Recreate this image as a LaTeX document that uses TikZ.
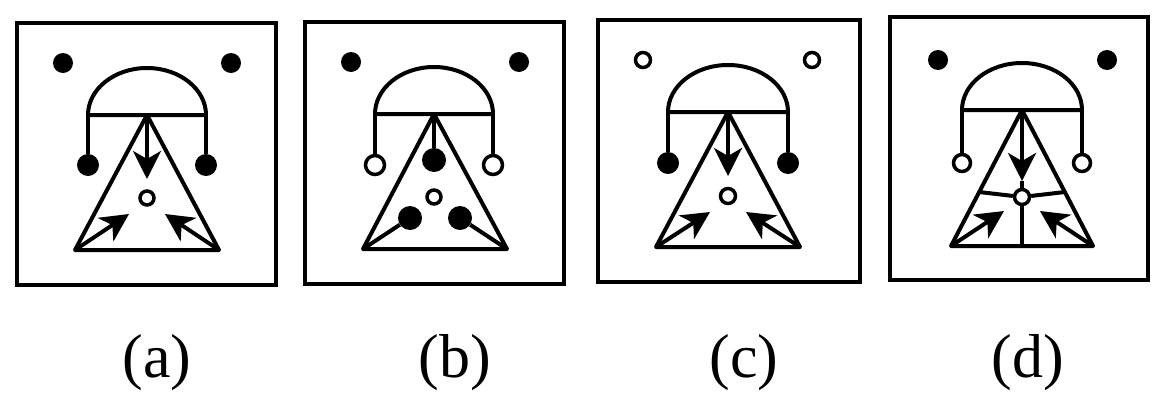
\documentclass[tikz,border=0pt]{standalone}
\usepackage{fontspec}
\setmainfont{Liberation Serif}
\usepackage{tikz}
\usetikzlibrary{arrows.meta,positioning}

\begin{document}
\begin{tikzpicture}[x=1pt,y=-1pt,
    frame/.style={line width=4.5pt},
    fig/.style={line width=4pt, line join=round},
    arr/.style={-{Stealth[length=28pt,width=28pt,inset=8pt]}},
    dot/.style={circle, fill, inner sep=0pt, minimum size=20pt},
    ring/.style={circle, draw, fill=white, line width=3.5pt, inner sep=0pt, minimum size=17pt},
    lab/.style={anchor=base, font=\fontsize{62}{66}\selectfont}]
      \useasboundingbox (0,0) rectangle (1153,394);
      % (a)
      \begin{scope}[shift={(17,23)}]
      \draw[frame] (0,0) rectangle (259,262);
      \node[dot] at (46,40) (a-tl) {};
      \node[dot] at (214,40) (a-tr) {};
      \coordinate (a-dl) at (71,92);
      \coordinate (a-dr) at (189,92);
      \coordinate (a-top) at (130,92);
      \coordinate (a-bl) at (58,227);
      \coordinate (a-br) at (202,227);
      \coordinate (a-tip) at (130,156);
      \coordinate (a-al) at (112,191);
      \coordinate (a-ar) at (148,191);
      \node[dot, minimum size=22pt] at (71,142) (a-hl) {};
      \node[dot, minimum size=22pt] at (189,142) (a-hr) {};
      \node[ring, minimum size=14pt] at (130,175) (a-mid) {};
      \draw[fig] (a-dl) arc[start angle=180, end angle=0, x radius=59pt, y radius=47pt] -- cycle;
      \draw[fig] (a-dl) -- (a-hl);
      \draw[fig] (a-dr) -- (a-hr);
      \draw[fig] (a-top) -- (a-bl) -- (a-br) -- cycle;
      \draw[fig,arr] (a-top) -- (a-tip);
      \draw[fig,arr] (a-bl) -- (a-al);
      \draw[fig,arr] (a-br) -- (a-ar);
      \end{scope}
      % (b)
      \begin{scope}[shift={(305,22)}]
      \draw[frame] (0,0) rectangle (259,262);
      \node[dot] at (46,40) (b-tl) {};
      \node[dot] at (214,40) (b-tr) {};
      \coordinate (b-dl) at (70,92);
      \coordinate (b-dr) at (188,92);
      \coordinate (b-top) at (129,92);
      \coordinate (b-bl) at (58,227);
      \coordinate (b-br) at (202,227);
      \node[ring, minimum size=19pt] at (70,143) (b-hl) {};
      \node[ring, minimum size=19pt] at (188,143) (b-hr) {};
      \node[dot, minimum size=24pt] at (129,138) (b-dt) {};
      \node[dot, minimum size=24pt] at (105,196) (b-dl2) {};
      \node[dot, minimum size=24pt] at (155,196) (b-dr2) {};
      \node[ring, minimum size=14pt] at (129,175) (b-mid) {};
      \draw[fig] (b-dl) arc[start angle=180, end angle=0, x radius=59pt, y radius=47pt] -- cycle;
      \draw[fig] (b-dl) -- (b-hl);
      \draw[fig] (b-dr) -- (b-hr);
      \draw[fig] (b-top) -- (b-bl) -- (b-br) -- cycle;
      \draw[fig] (b-top) -- (b-dt);
      \draw[fig] (b-bl) -- (b-dl2);
      \draw[fig] (b-br) -- (b-dr2);
      \end{scope}
      % (c)
      \begin{scope}[shift={(598,20)}]
      \draw[frame] (0,0) rectangle (262,262);
      \node[ring, minimum size=15pt] at (45,40) (c-tl) {};
      \node[ring, minimum size=15pt] at (214,40) (c-tr) {};
      \coordinate (c-dl) at (70,92);
      \coordinate (c-dr) at (190,92);
      \coordinate (c-top) at (130,92);
      \coordinate (c-bl) at (58,227);
      \coordinate (c-br) at (202,227);
      \coordinate (c-tip) at (130,156);
      \coordinate (c-al) at (112,192);
      \coordinate (c-ar) at (148,192);
      \node[dot, minimum size=22pt] at (70,143) (c-hl) {};
      \node[dot, minimum size=22pt] at (190,143) (c-hr) {};
      \node[ring, minimum size=15pt] at (130,176) (c-mid) {};
      \draw[fig] (c-dl) arc[start angle=180, end angle=0, x radius=60pt, y radius=47pt] -- cycle;
      \draw[fig] (c-dl) -- (c-hl);
      \draw[fig] (c-dr) -- (c-hr);
      \draw[fig] (c-top) -- (c-bl) -- (c-br) -- cycle;
      \draw[fig,arr] (c-top) -- (c-tip);
      \draw[fig,arr] (c-bl) -- (c-al);
      \draw[fig,arr] (c-br) -- (c-ar);
      \end{scope}
      % (d)
      \begin{scope}[shift={(890,17)}]
      \draw[frame] (0,0) rectangle (258,263);
      \node[dot] at (48,43) (d-tl) {};
      \node[dot] at (217,43) (d-tr) {};
      \coordinate (d-dl) at (72,93);
      \coordinate (d-dr) at (192,93);
      \coordinate (d-top) at (132,93);
      \coordinate (d-bl) at (61,229);
      \coordinate (d-br) at (203,229);
      \coordinate (d-tip) at (132,164);
      \coordinate (d-ml) at (89,175);
      \coordinate (d-mr) at (175,175);
      \coordinate (d-mb) at (132,229);
      \coordinate (d-al) at (114,194);
      \coordinate (d-ar) at (150,194);
      \node[ring] at (72,146) (d-hl) {};
      \node[ring] at (192,146) (d-hr) {};
      \node[ring, minimum size=15pt] at (132,180) (d-mid) {};
      \draw[fig] (d-dl) arc[start angle=180, end angle=0, x radius=60pt, y radius=47pt] -- cycle;
      \draw[fig] (d-dl) -- (d-hl);
      \draw[fig] (d-dr) -- (d-hr);
      \draw[fig] (d-top) -- (d-bl) -- (d-br) -- cycle;
      \draw[fig] (d-tip) -- (d-mid);
      \draw[fig] (d-mid) -- (d-ml);
      \draw[fig] (d-mid) -- (d-mr);
      \draw[fig] (d-mid) -- (d-mb);
      \draw[fig,arr] (d-top) -- (d-tip);
      \draw[fig,arr] (d-bl) -- (d-al);
      \draw[fig,arr] (d-br) -- (d-ar);
      \end{scope}
      % labels
      \node[lab] at (157,377) (lab-a) {(a)};
      \node[lab] at (455,377) (lab-b) {(b)};
      \node[lab] at (744,377) (lab-c) {(c)};
      \node[lab] at (1028,377) (lab-d) {(d)};
      \end{tikzpicture}
\end{document}
